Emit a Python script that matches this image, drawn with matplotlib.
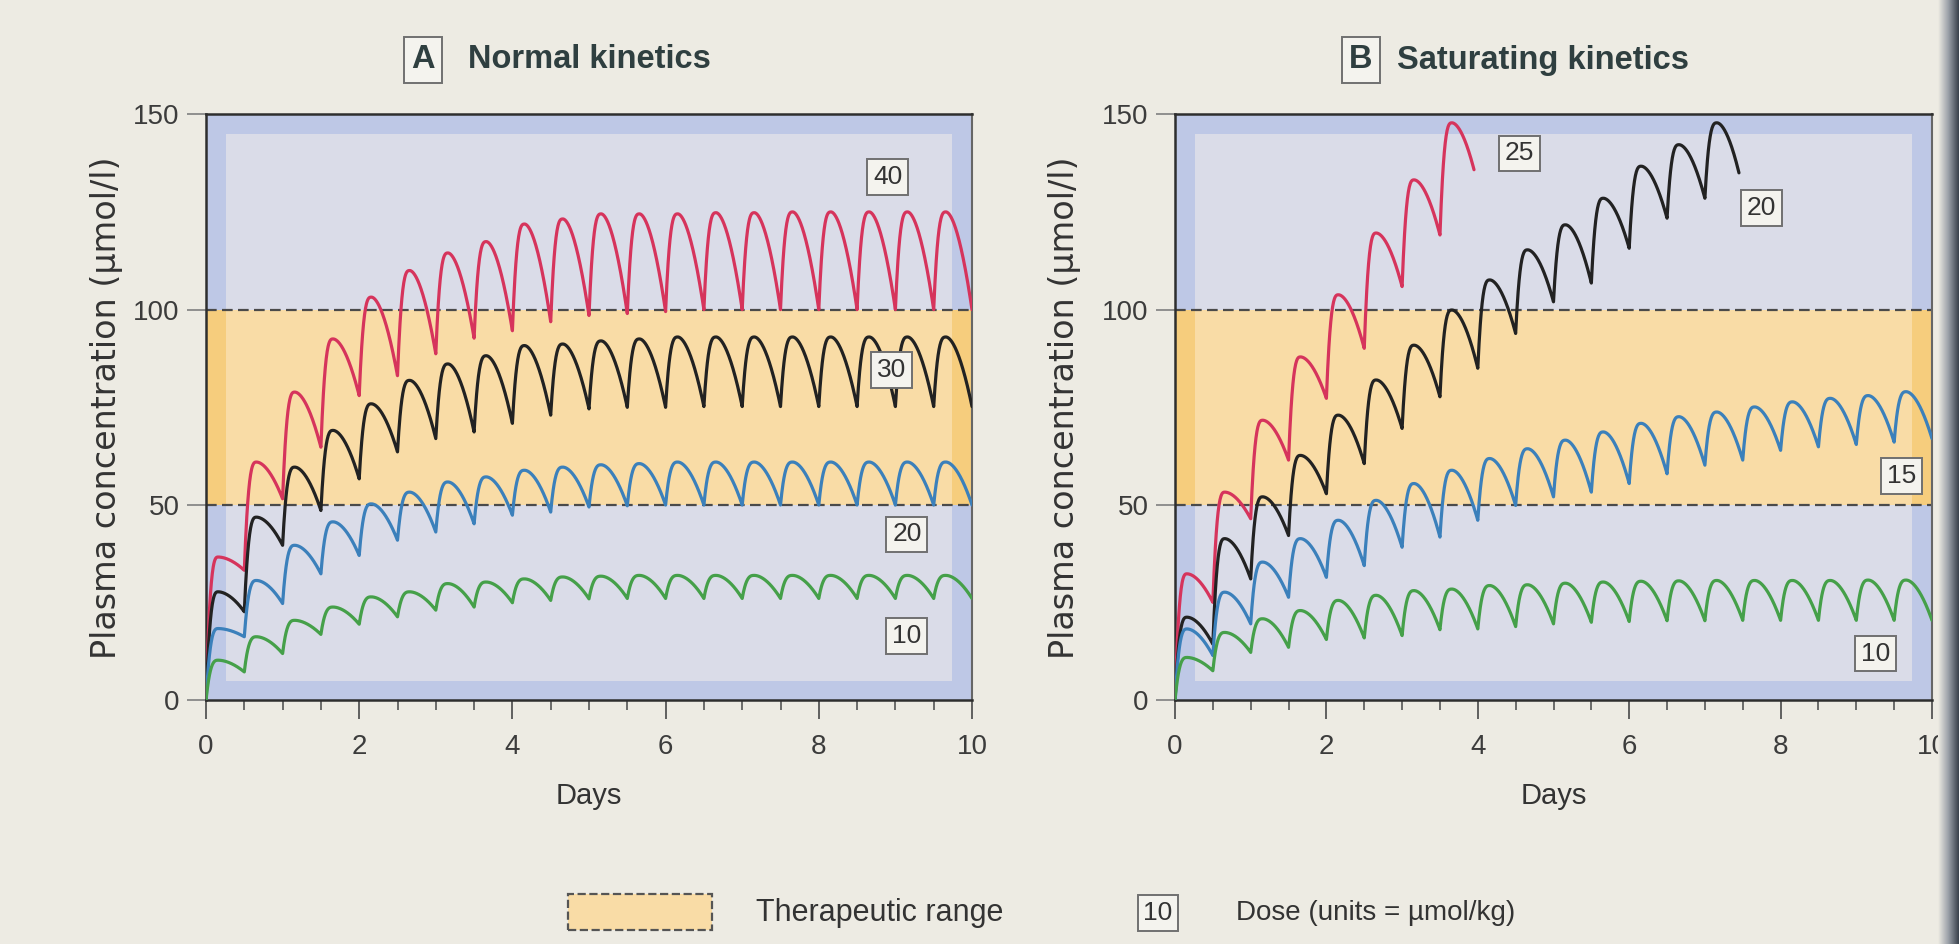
#!/usr/bin/env python3
'''
Repeated oral dosing: normal vs saturating elimination kinetics.
'''

import numpy as np
import matplotlib.pyplot as plt
from matplotlib.patches import Rectangle
from matplotlib.colors import LinearSegmentedColormap
import matplotlib.transforms as mtransforms

plt.rcParams['font.family'] = ['Liberation Sans', 'DejaVu Sans']

DOSE_INTERVAL = 0.5   # days between doses
PEAK_DELAY = 0.16     # days from a dose to its peak

# A  Normal kinetics -- peak and end-of-interval level for each dose (umol/l)
a_doses = ['40', '30', '20', '10']
a40_peaks = [36.7, 61.0, 78.9, 92.5, 103.2, 110.0, 114.5, 117.4, 121.9, 123.2,
             124.5, 124.5, 124.5, 124.8, 124.8, 125.0, 125.0, 125.0, 125.0, 125.0]
a40_troughs = [33.3, 51.6, 64.8, 78.0, 83.1, 88.7, 92.7, 94.6, 96.9, 98.5,
               99.0, 99.5, 100.0, 100.0, 100.0, 100.0, 100.0, 100.0, 100.0, 100.0]
a30_peaks = [27.8, 46.9, 59.7, 69.1, 75.9, 81.9, 86.1, 88.2, 90.8, 91.2,
             92.0, 92.5, 93.0, 93.0, 93.0, 93.0, 93.0, 93.0, 93.0, 93.0]
a30_troughs = [22.7, 39.7, 48.6, 56.7, 63.6, 67.0, 68.7, 70.9, 73.0, 74.6,
               75.0, 75.0, 75.2, 75.2, 75.2, 75.2, 75.2, 75.2, 75.2, 75.2]
a20_peaks = [18.4, 30.7, 39.7, 45.7, 50.3, 53.3, 55.9, 57.2, 58.9, 59.7,
             60.3, 60.6, 61.0, 61.0, 61.0, 61.0, 61.0, 61.0, 61.0, 61.0]
a20_troughs = [16.3, 24.8, 32.4, 37.1, 41.0, 43.1, 45.2, 47.4, 48.2, 49.5,
               49.8, 50.0, 50.0, 50.0, 50.0, 50.0, 50.0, 50.0, 50.0, 50.0]
a10_peaks = [10.3, 16.3, 20.5, 23.9, 26.5, 27.8, 29.9, 30.3, 31.1, 31.6,
             31.8, 32.0, 32.0, 32.0, 32.0, 32.0, 32.0, 32.0, 32.0, 32.0]
a10_troughs = [7.3, 12.0, 16.9, 19.5, 21.4, 23.1, 23.9, 25.0, 25.6, 26.0,
               26.1, 26.1, 26.1, 26.1, 26.1, 26.1, 26.1, 26.1, 26.1, 26.1]

# B  Saturating kinetics (25 and 20 stop before day 10)
b_doses = ['25', '20', '15', '10']
b25_peaks = [32.4, 53.3, 71.7, 87.9, 103.8, 119.6, 133.2, 147.8]
b25_troughs = [25.1, 46.5, 61.5, 77.3, 90.1, 105.9, 119.1, 135.8]
b20_peaks = [21.3, 41.4, 52.1, 62.7, 73.0, 82.0, 90.9, 99.9, 107.6, 115.3,
             121.7, 128.5, 136.7, 142.2, 147.8]
b20_troughs = [14.4, 31.1, 42.2, 52.9, 60.6, 69.6, 77.7, 85.0, 93.9, 102.0,
               106.8, 115.7, 123.4, 128.5, 135.0]
b15_peaks = [18.3, 27.7, 35.4, 41.4, 46.1, 51.2, 55.5, 58.9, 61.9, 64.4,
             66.6, 68.7, 70.9, 72.6, 73.8, 75.1, 76.4, 77.3, 78.0, 79.0]
b15_troughs = [11.5, 19.6, 26.4, 31.5, 34.5, 39.2, 41.8, 46.1, 49.9, 52.1,
               53.3, 55.5, 58.0, 60.2, 61.5, 64.0, 64.9, 65.5, 66.1, 67.0]
b10_peaks = [11.0, 17.4, 20.9, 23.0, 25.6, 26.9, 28.1, 28.5, 29.4, 29.6,
             30.0, 30.3, 30.5, 30.6, 30.7, 30.7, 30.7, 30.7, 30.8, 30.8]
b10_troughs = [7.6, 12.3, 13.6, 15.6, 16.0, 16.6, 18.1, 18.3, 18.9, 19.6,
               20.0, 20.2, 20.4, 20.4, 20.5, 20.5, 20.5, 20.5, 20.5, 20.5]
b_end_days = [3.95, 7.45, None, None]

X_TICKS = [0, 2, 4, 6, 8, 10]
Y_TICKS = [0, 50, 100, 150]
THERAPEUTIC = (50, 100)

LINE_COLORS = ['#d6345c', '#222222', '#3b80bb', '#45a049']
a_label_pos = [(8.9, 134), (8.95, 84.5), (9.15, 42.5), (9.15, 16.5)]
b_label_pos = [(4.55, 140), (7.75, 126), (9.6, 57.5), (9.25, 12)]

BG = '#edebe3'
BOX = dict(boxstyle='square,pad=0.22', fc='#f4f3ee', ec='#707070', lw=1.4)


def dosing_curve(peaks, troughs, t_end=None, n=40):
    '''Join each peak/trough pair with a rounded pulse shape.'''
    ts, cs = [], []
    start = 0.0
    for k, (pk, tr) in enumerate(zip(peaks, troughs)):
        t0 = k * DOSE_INTERVAL
        t1 = t0 + DOSE_INTERVAL
        if t_end is not None and k == len(peaks) - 1:
            t1 = t_end
        tp = t0 + PEAK_DELAY
        v = np.linspace(0, 1, n)
        u = np.linspace(0, 1, 2 * n)[1:]
        ts += list(t0 + v * (tp - t0)) + list(tp + u * (t1 - tp))
        cs += list(pk - (pk - start) * (1 - v) ** 3) + list(pk - (pk - tr) * u ** 1.8)
        start = tr
    return np.array(ts), np.array(cs)


def decorate(ax, ylabel_x):
    ax.set_xlim(0, 10)
    ax.set_ylim(0, 150)
    ax.set_facecolor('#bec8e6')
    ax.add_patch(Rectangle((0.026, 0.033), 0.948, 0.934, transform=ax.transAxes,
                           fc='#dadce8', ec='none', zorder=0.5))
    ax.axhspan(*THERAPEUTIC, fc='#f9dca6', ec='none', zorder=0.6)
    blend = mtransforms.blended_transform_factory(ax.transAxes, ax.transData)
    for x0 in (0, 0.974):
        ax.add_patch(Rectangle((x0, THERAPEUTIC[0]), 0.026, THERAPEUTIC[1] - THERAPEUTIC[0],
                               transform=blend, fc='#f6cd7d', ec='none', zorder=0.7))
    for lvl in THERAPEUTIC:
        ax.axhline(lvl, color='#4a4a4a', lw=1.6, dashes=(4.8, 2.4), zorder=1)

    ax.set_xticks(X_TICKS)
    ax.set_xticks(np.arange(0, 10.01, DOSE_INTERVAL), minor=True)
    ax.set_yticks(Y_TICKS)
    ax.tick_params(axis='x', which='major', length=14, width=1.3, pad=10,
                   color='#555555', labelsize=20, labelcolor='#3c3c3c')
    ax.tick_params(axis='x', which='minor', length=7, width=1.2, color='#555555')
    ax.tick_params(axis='y', length=14, width=1.3, pad=5, color='#888888',
                   labelsize=20, labelcolor='#3c3c3c')
    for side in ('left', 'bottom', 'top'):
        ax.spines[side].set_color('#2e2e2e')
        ax.spines[side].set_linewidth(1.8)
    ax.spines['right'].set_color('#666666')
    ax.spines['right'].set_linewidth(1.5)

    ax.set_xlabel('Days', fontsize=21, color='#333333', labelpad=16)
    ax.set_ylabel('Plasma concentration (µmol/l)', fontsize=24, color='#333333',
                  family=['DejaVu Sans'])
    ax.yaxis.set_label_coords(ylabel_x, 0.5)


def run():
    fig = plt.figure(figsize=(19.59, 9.44), dpi=100, facecolor=BG)
    axA = fig.add_axes([206 / 1959, 0.258, 766 / 1959, 0.621])
    axB = fig.add_axes([1175 / 1959, 0.258, 757 / 1959, 0.621])
    decorate(axA, -0.108)
    decorate(axB, -0.124)

    a_series = [(a40_peaks, a40_troughs), (a30_peaks, a30_troughs),
                (a20_peaks, a20_troughs), (a10_peaks, a10_troughs)]
    for (pk, tr), col, dose, pos in zip(a_series, LINE_COLORS, a_doses, a_label_pos):
        t, c = dosing_curve(pk, tr)
        axA.plot(t, c, color=col, lw=2.3, zorder=3, solid_capstyle='round')
        axA.text(pos[0], pos[1], dose, fontsize=19, color='#333333',
                 ha='center', va='center', bbox=BOX, zorder=5)

    b_series = [(b25_peaks, b25_troughs), (b20_peaks, b20_troughs),
                (b15_peaks, b15_troughs), (b10_peaks, b10_troughs)]
    for (pk, tr), col, dose, pos, t_end in zip(b_series, LINE_COLORS, b_doses,
                                               b_label_pos, b_end_days):
        t, c = dosing_curve(pk, tr, t_end)
        axB.plot(t, c, color=col, lw=2.3, zorder=3, solid_capstyle='round')
        axB.text(pos[0], pos[1], dose, fontsize=19, color='#333333',
                 ha='center', va='center', bbox=BOX, zorder=5)

    # panel titles
    title_kw = dict(fontsize=23.5, fontweight='bold', color='#2f3f40', va='center')
    fig.text(423 / 1959, 1 - 60 / 944, 'A', ha='center', bbox=BOX, **title_kw)
    fig.text(468 / 1959, 1 - 60 / 944, 'Normal kinetics', ha='left', **title_kw)
    fig.text(1361 / 1959, 1 - 60 / 944, 'B', ha='center', bbox=BOX, **title_kw)
    fig.text(1397 / 1959, 1 - 60 / 944, 'Saturating kinetics', ha='left', **title_kw)

    # key along the bottom
    fig.patches.append(Rectangle((568 / 1959, 1 - 930 / 944), 144 / 1959, 36 / 944,
                                 transform=fig.transFigure, fc='#f9dca6', ec='#555555',
                                 ls='--', lw=1.6))
    fig.text(756 / 1959, 1 - 913 / 944, 'Therapeutic range', fontsize=22,
             color='#333333', va='center')
    fig.text(1158 / 1959, 1 - 913 / 944, '10', fontsize=19, color='#333333',
             ha='center', va='center', bbox=BOX)
    fig.text(1236 / 1959, 1 - 913 / 944, 'Dose (units = µmol/kg)', fontsize=20,
             color='#333333', va='center')

    # page binding shadow on the right edge
    shade = fig.add_axes([1938 / 1959, 0, 21 / 1959, 1])
    cmap = LinearSegmentedColormap.from_list('bind', [BG, '#9aa0a8', '#3a424c'])
    shade.imshow(np.linspace(0, 1, 64)[None, :], aspect='auto', cmap=cmap)
    shade.axis('off')

    fig.savefig('out.png', dpi=100, facecolor=BG)


if __name__ == '__main__':
    run()
